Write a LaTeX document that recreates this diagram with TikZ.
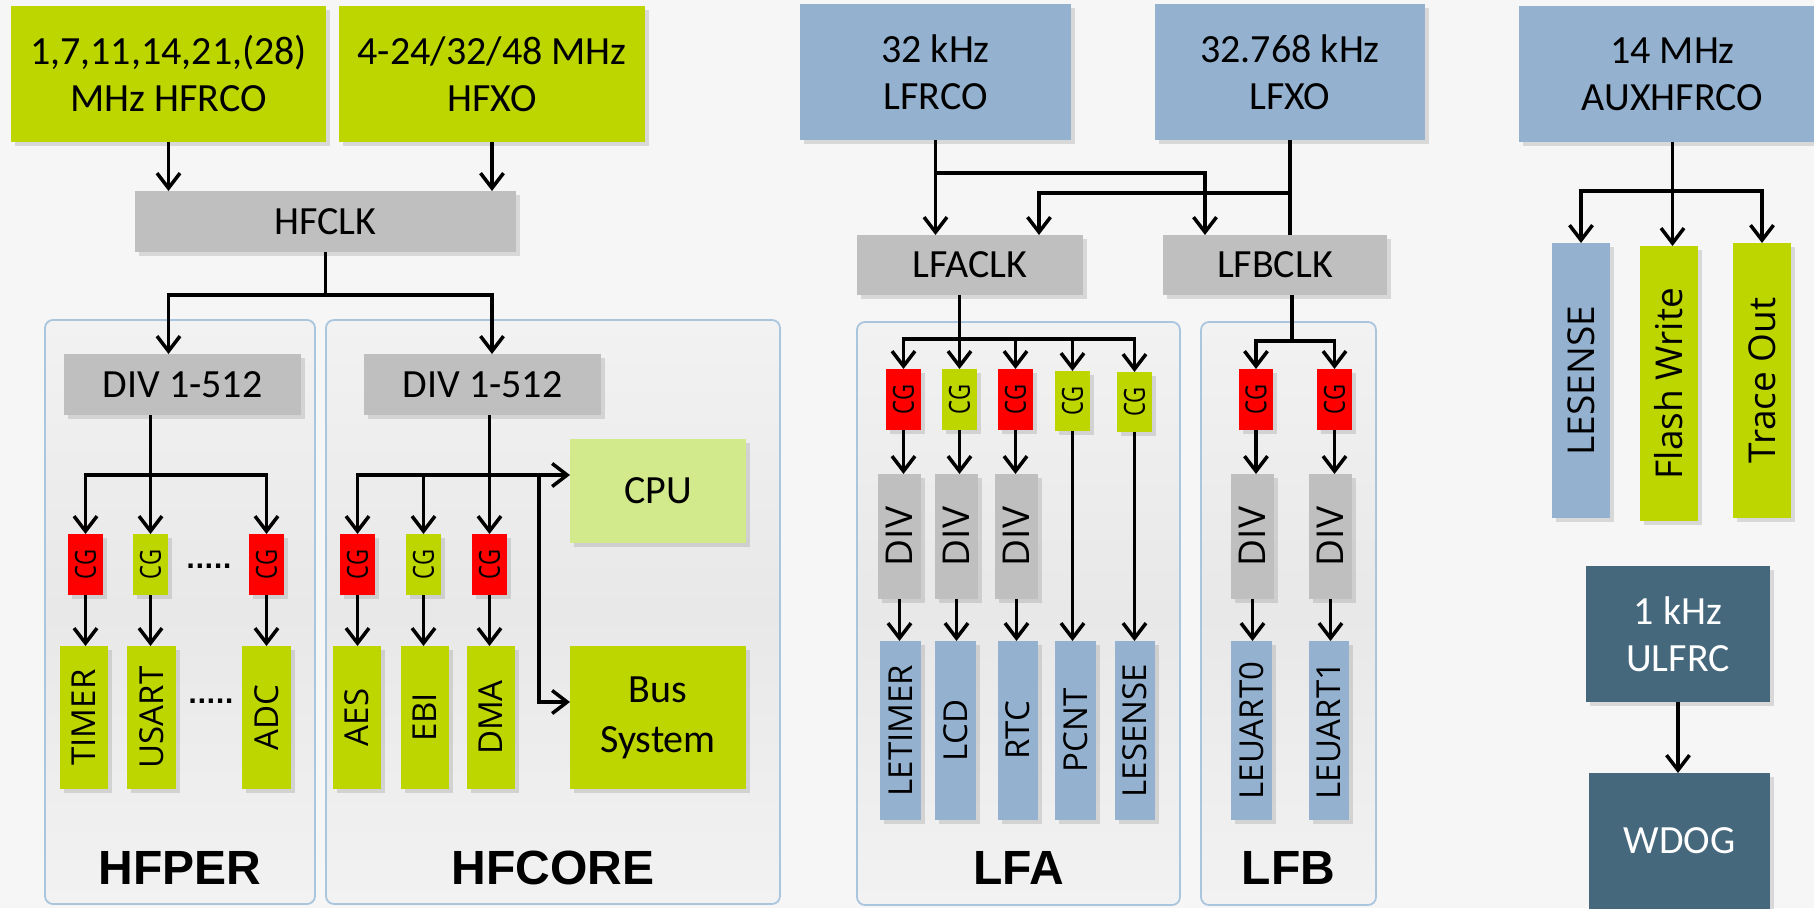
\documentclass[tikz,border=0pt]{standalone}
\usepackage{fontspec}
\usepackage{graphicx}
\setmainfont{Carlito}
\newfontfamily\osf{Open Sans}
\newfontfamily\arf{Liberation Sans}
\newfontfamily\dvf{DejaVu Sans}
\usetikzlibrary{shadows,arrows.meta,calc}
\definecolor{cgrn}{RGB}{190,214,0}
\definecolor{clgr}{RGB}{210,234,140}
\definecolor{cred}{RGB}{255,0,0}
\definecolor{cgry}{RGB}{191,191,191}
\definecolor{cblu}{RGB}{148,178,207}
\definecolor{ctea}{RGB}{69,104,125}
\definecolor{bgc}{RGB}{246,246,246}
\definecolor{ctb}{RGB}{170,198,222}
\definecolor{ctfa}{RGB}{242,242,242}
\definecolor{ctfb}{RGB}{232,232,232}
\newcommand\mkbox[7]{\node[#6, minimum width={#4-#2}, minimum height={#5-#3}] (#1) at ({(#2+#4)/2},{(#3+#5)/2}) {#7};}
\newcommand\rtx[1]{\rotatebox{90}{#1}}
\newcommand\cgtxt{\rotatebox{90}{\scalebox{0.76}[1]{CG}}}
\tikzset{
  box/.style={inner sep=0pt, outer sep=0pt, text=black, drop shadow={shadow xshift=4pt,shadow yshift=-4pt,opacity=0.25}},
  gb/.style={box, fill=cgrn},
  lgb/.style={box, fill=clgr},
  rb/.style={box, fill=cred},
  yb/.style={box, fill=cgry},
  bb/.style={box, fill=cblu},
  tb/.style={box, fill=ctea},
  cont/.style={inner sep=0pt, outer sep=0pt, draw=ctb, line width=1.8pt, rounded corners=8pt, top color=ctfa, bottom color=ctfa, middle color=ctfb},
  cal/.style={font=\fontsize{40}{47}\selectfont, align=center},
  vt/.style={font=\osf\fontsize{33}{33}\selectfont},
  dvt/.style={font=\osf\fontsize{37}{37}\selectfont},
  auxt/.style={font=\osf\fontsize{37}{37}\selectfont},
  cgt/.style={font=\osf\fontsize{29}{29}\selectfont},
  lbl/.style={font=\arf\bfseries\fontsize{48}{48}\selectfont, inner sep=0pt},
  dots/.style={font=\dvf\bfseries\fontsize{24}{24}\selectfont, inner sep=0pt},
  ln/.style={draw=black, line width=3.5pt},
  arr/.style={ln, -{Straight Barb[length=15pt,width=23pt]}}
}
\begin{document}
\begin{tikzpicture}[x=1pt,y=-1pt]
\useasboundingbox (0,0) rectangle (1814,908);
\fill[bgc] (0,0) rectangle (1814,908);

% containers
\mkbox{hfper}{45}{320}{315}{904}{cont}{}
\mkbox{hfcore}{326}{320}{780}{904}{cont}{}
\mkbox{lfa}{857}{322}{1180}{905}{cont}{}
\mkbox{lfb}{1201}{322}{1376}{905}{cont}{}
\node[lbl] (lhfper) at ([yshift=36pt]hfper.south) {HFPER};
\node[lbl] (lhfcore) at ([yshift=36pt]hfcore.south) {HFCORE};
\node[lbl] (llfa) at ([yshift=37pt]lfa.south) {LFA};
\node[lbl] (llfb) at ([yshift=37pt]lfb.south) {LFB};

% HF sources
\mkbox{hfrco}{11}{6}{326}{142}{gb,cal}{1,7,11,14,21,(28)\\MHz HFRCO}
\mkbox{hfxo}{339}{6}{645}{142}{gb,cal}{4-24/32/48 MHz\\HFXO}
\mkbox{hfclk}{135}{191}{516}{252}{yb,cal}{HFCLK}
\mkbox{divl}{64}{354}{301}{415}{yb,cal}{DIV 1-512}
\mkbox{divr}{364}{354}{601}{415}{yb,cal}{DIV 1-512}

% HFPER
\mkbox{cga}{68}{534}{103}{595}{rb,cgt}{\cgtxt}
\mkbox{cgb}{133}{534}{168}{595}{gb,cgt}{\cgtxt}
\mkbox{cgc}{249}{534}{284}{595}{rb,cgt}{\cgtxt}
\mkbox{timer}{60}{646}{108}{789}{gb,vt}{\rtx{TIMER}}
\mkbox{usart}{127}{646}{176}{789}{gb,vt}{\rtx{USART}}
\mkbox{adc}{242}{646}{291}{789}{gb,vt}{\rtx{ADC}}
\node[dots] (dota) at (209,566) {.....};
\node[dots] (dotb) at (211,701) {.....};

% HFCORE
\mkbox{cgaes}{340}{534}{375}{595}{rb,cgt}{\cgtxt}
\mkbox{cgebi}{406}{534}{441}{595}{gb,cgt}{\cgtxt}
\mkbox{cgdma}{472}{534}{507}{595}{rb,cgt}{\cgtxt}
\mkbox{aes}{333}{646}{381}{789}{gb,vt}{\rtx{AES}}
\mkbox{ebi}{401}{646}{449}{789}{gb,vt}{\rtx{EBI}}
\mkbox{dma}{467}{646}{515}{789}{gb,vt}{\rtx{DMA}}
\mkbox{cpu}{570}{439}{746}{543}{lgb,cal}{CPU}
\mkbox{bus}{570}{646}{746}{789}{gb,font=\fontsize{40}{50}\selectfont,align=center}{Bus\\System}

% LF sources
\mkbox{lfrco}{800}{4}{1071}{140}{bb,cal}{32 kHz\\LFRCO}
\mkbox{lfxo}{1155}{4}{1425}{140}{bb,cal}{32.768 kHz\\LFXO}
\mkbox{lfaclk}{857}{235}{1083}{295}{yb,cal}{LFACLK}
\mkbox{lfbclk}{1163}{235}{1387}{295}{yb,cal}{LFBCLK}

% LFA
\mkbox{cgl1}{886}{369}{921}{430}{rb,cgt}{\cgtxt}
\mkbox{cgl2}{942}{369}{977}{430}{gb,cgt}{\cgtxt}
\mkbox{cgl3}{998}{369}{1033}{430}{rb,cgt}{\cgtxt}
\mkbox{cgl4}{1055}{371}{1090}{431}{gb,cgt}{\cgtxt}
\mkbox{cgl5}{1117}{372}{1152}{432}{gb,cgt}{\cgtxt}
\mkbox{dvl1}{878}{474}{921}{599}{yb,dvt}{\rtx{DIV}}
\mkbox{dvl2}{935}{474}{978}{599}{yb,dvt}{\rtx{DIV}}
\mkbox{dvl3}{995}{474}{1038}{599}{yb,dvt}{\rtx{DIV}}
\mkbox{letimer}{880}{641}{921}{820}{bb,vt}{\rtx{LETIMER}}
\mkbox{lcd}{935}{641}{976}{820}{bb,vt}{\rtx{LCD}}
\mkbox{rtc}{998}{641}{1038}{820}{bb,vt}{\rtx{RTC}}
\mkbox{pcnt}{1055}{641}{1096}{820}{bb,vt}{\rtx{PCNT}}
\mkbox{lesa}{1115}{641}{1155}{820}{bb,vt}{\rtx{LESENSE}}

% LFB
\mkbox{cgm1}{1239}{369}{1273}{430}{rb,cgt}{\cgtxt}
\mkbox{cgm2}{1317}{369}{1352}{430}{rb,cgt}{\cgtxt}
\mkbox{dvm1}{1231}{474}{1274}{599}{yb,dvt}{\rtx{DIV}}
\mkbox{dvm2}{1309}{474}{1352}{599}{yb,dvt}{\rtx{DIV}}
\mkbox{leu0}{1231}{641}{1272}{820}{bb,vt}{\rtx{LEUART0}}
\mkbox{leu1}{1309}{641}{1349}{820}{bb,vt}{\rtx{LEUART1}}

% AUX
\mkbox{aux}{1519}{6}{1826}{142}{bb,cal}{14 MHz\\AUXHFRCO}
\mkbox{lesb}{1552}{243}{1610}{518}{bb,auxt}{\rtx{LESENSE}}
\mkbox{flash}{1640}{246}{1698}{521}{gb,auxt}{\rtx{Flash Write}}
\mkbox{trace}{1733}{243}{1791}{518}{gb,auxt}{\rtx{Trace Out}}
\mkbox{ulfrc}{1586}{566}{1770}{702}{tb,cal,text=white}{1 kHz\\ULFRC}
\mkbox{wdog}{1589}{773}{1770}{909}{tb,cal,text=white}{WDOG}

% ---- connectors: HF
\draw[arr] (hfrco.south) -- (hfrco.south |- hfclk.north);
\draw[arr] (hfxo.south) -- (hfxo.south |- hfclk.north);
\coordinate (hfj) at (325.5,295);
\draw[ln] (hfclk.south) -- (hfj);
\draw[arr] (hfj) -| (divl.north -| hfrco.south);
\draw[arr] (hfj) -| (divr.north -| hfxo.south);

\coordinate (pj) at (151,475);
\draw[arr] (divl.south -| cgb.north) -- (cgb.north);
\draw[arr] (pj) -| (cga.north);
\draw[arr] (pj) -| (cgc.north);
\draw[arr] (cga.south) -- (cga.south |- timer.north);
\draw[arr] (cgb.south) -- (cgb.south |- usart.north);
\draw[arr] (cgc.south) -- (cgc.south |- adc.north);

\coordinate (cj) at (490,475);
\coordinate (bj) at (539,475);
\coordinate (bk) at (539,702);
\draw[arr] (divr.south -| cgdma.north) -- (cgdma.north);
\draw[arr] (cj) -| (cgaes.north);
\draw[arr] (cgebi.north |- cj) -- (cgebi.north);
\draw[arr] (cj) -- (cpu.west |- cj);
\draw[arr] (bj) -- (bk) -- (bus.west |- bk);
\draw[arr] (cgaes.south) -- (cgaes.south |- aes.north);
\draw[arr] (cgebi.south) -- (cgebi.south |- ebi.north);
\draw[arr] (cgdma.south) -- (cgdma.south |- dma.north);

% ---- connectors: LF
\coordinate (lfrj) at (935.5,173);
\coordinate (lfxj) at (1290,193);
\coordinate (lfbin) at (1205,235);
\coordinate (lfain) at (1039,235);
\draw[arr] (lfrco.south) -- (lfrco.south |- lfaclk.north);
\draw[arr] (lfrj) -| (lfbin);
\draw[ln] (lfxo.south) -- (lfxo.south |- lfbclk.north);
\draw[arr] (lfxj) -| (lfain);

\coordinate (laj) at (959.5,339);
\draw[ln] (lfaclk.south -| laj) -- (laj);
\draw[arr] (laj) -| (cgl1.north);
\draw[arr] (laj) -- (cgl2.north);
\draw[arr] (laj) -| (cgl3.north);
\draw[arr] (laj) -| (cgl4.north);
\draw[arr] (laj) -| (cgl5.north);
\draw[arr] (cgl1.south) -- (cgl1.south |- dvl1.north);
\draw[arr] (cgl2.south) -- (cgl2.south |- dvl2.north);
\draw[arr] (cgl3.south) -- (cgl3.south |- dvl3.north);
\draw[arr] (dvl1.south) -- (dvl1.south |- letimer.north);
\draw[arr] (dvl2.south) -- (dvl2.south |- lcd.north);
\draw[arr] (dvl3.south) -- (dvl3.south |- rtc.north);
\draw[arr] (cgl4.south) -- (cgl4.south |- pcnt.north);
\draw[arr] (cgl5.south) -- (cgl5.south |- lesa.north);

\coordinate (lbj) at (1292,341);
\draw[ln] (lfbclk.south -| lbj) -- (lbj);
\draw[arr] (lbj) -| (cgm1.north);
\draw[arr] (lbj) -| (cgm2.north);
\draw[arr] (cgm1.south) -- (cgm1.south |- dvm1.north);
\draw[arr] (cgm2.south) -- (cgm2.south |- dvm2.north);
\draw[arr] (dvm1.south) -- (dvm1.south |- leu0.north);
\draw[arr] (dvm2.south) -- (dvm2.south |- leu1.north);

% ---- connectors: AUX
\coordinate (auxj) at (1672.5,191);
\draw[ln] (aux.south) -- (auxj);
\draw[arr] (auxj) -| (lesb.north);
\draw[arr] (auxj) -- (auxj |- flash.north);
\draw[arr] (auxj) -| (trace.north);
\draw[arr] (ulfrc.south) -- (ulfrc.south |- wdog.north);
\end{tikzpicture}
\end{document}
